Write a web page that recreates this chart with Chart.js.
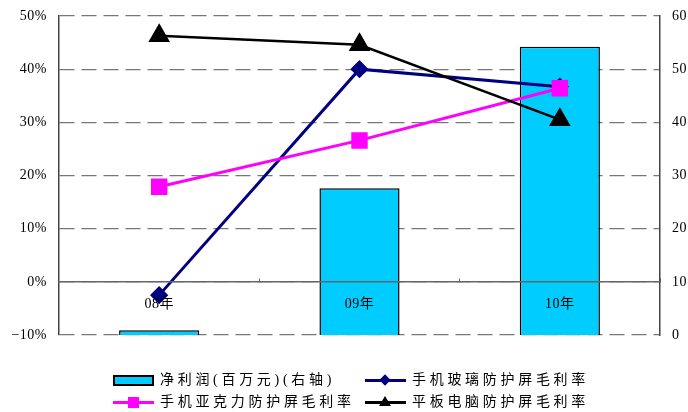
<!DOCTYPE html>
<html>
<head>
<meta charset="utf-8">
<script src="https://cdn.jsdelivr.net/npm/chart.js@4/dist/chart.umd.min.js"></script>
<style>
  body { margin: 0; background: #fff; }
  #wrap { position: relative; width: 688px; height: 412px; }
  #legend {
    position: absolute; left: 0; top: 370px; width: 688px;
    font-family: "Liberation Serif", "Noto Sans CJK SC", serif;
    font-size: 14px; letter-spacing: 3.7px; color: #000;
  }
  .item { position: absolute; height: 18px; line-height: 18px; white-space: nowrap; }
  .key { position: absolute; left: 0; top: 0; width: 41px; height: 18px; }
  .item span.txt { position: absolute; left: 47px; top: 0; }
  .line { position: absolute; left: 0; top: 8px; width: 41px; height: 3px; }
</style>
</head>
<body>
<div id="wrap">
  <canvas id="chart" width="688" height="412"></canvas>
  <div id="legend"></div>
</div>
<script>
//<![CDATA[

let categories = ['08年', '09年', '10年'];
let netProfit = [0.9, 27.6, 54.2];        // 净利润(百万元)(右轴)
let glassMargin = [-2.5, 40.0, 36.7];     // 手机玻璃防护屏毛利率
let acrylicMargin = [17.9, 26.6, 36.4];   // 手机亚克力防护屏毛利率
let tabletMargin = [46.3, 44.6, 30.5];    // 平板电脑防护屏毛利率
let leftTicks = [-10, 0, 10, 20, 30, 40, 50];
let rightTicks = [0, 10, 20, 30, 40, 50, 60];

let fontFamily = '"Liberation Serif", "Noto Sans CJK SC", serif';

// canvas text is slightly letter-spaced like the original
const spacing = {
    id: 'spacing',
    beforeUpdate(chart) { chart.ctx.letterSpacing = '0.5px'; },
    beforeDraw(chart) { chart.ctx.letterSpacing = '0.5px'; }
};

function fixWidth(w) {
    return function(scale) {
        scale.width = w;
        scale.paddingTop = 0;
        scale.paddingBottom = 0;
    };
}

const ctx = document.getElementById('chart');
const chart = new Chart(ctx, {
    data: {
        labels: categories,
        datasets: [
            {
                type: 'bar',
                label: '净利润(百万元)(右轴)',
                data: netProfit,
                yAxisID: 'y1',
                backgroundColor: '#00ccff',
                borderColor: '#000',
                borderWidth: 1.5,
                barPercentage: 0.4,
                categoryPercentage: 1,
                order: 3
            },
            {
                type: 'line',
                label: '手机玻璃防护屏毛利率',
                data: glassMargin,
                yAxisID: 'y',
                borderColor: '#000080',
                backgroundColor: '#000080',
                borderWidth: 3,
                pointStyle: 'rectRot',
                pointRadius: 7,
                order: 2
            },
            {
                type: 'line',
                label: '手机亚克力防护屏毛利率',
                data: acrylicMargin,
                yAxisID: 'y',
                borderColor: '#ff00ff',
                backgroundColor: '#ff00ff',
                borderWidth: 3,
                pointStyle: 'rect',
                pointRadius: 9.5,
                order: 1
            },
            {
                type: 'line',
                label: '平板电脑防护屏毛利率',
                data: tabletMargin,
                yAxisID: 'y',
                borderColor: '#000',
                backgroundColor: '#000',
                borderWidth: 2.5,
                pointStyle: 'triangle',
                pointRadius: 10,
                order: 0
            }
        ]
    },
    options: {
        responsive: false,
        animation: false,
        layout: { padding: { top: 16, bottom: 77, left: 0, right: 0 } },
        plugins: {
            legend: { display: false },
            tooltip: { enabled: false }
        },
        scales: {
            x: {
                type: 'category',
                position: { y: 0 },
                offset: true,
                // small tick marks pointing up at the category boundaries
                grid: {
                    display: true,
                    offset: true,
                    drawOnChartArea: false,
                    drawTicks: true,
                    tickLength: -4,
                    tickColor: '#666',
                    lineWidth: 1
                },
                border: { display: true, color: '#666', width: 1.5, z: 1 },
                ticks: {
                    z: 1,
                    padding: 18,
                    color: '#000',
                    font: { family: fontFamily, size: 14 }
                }
            },
            y: {
                position: 'left',
                min: -10,
                max: 50,
                afterFit: fixWidth(59),
                afterBuildTicks(scale) { scale.ticks = leftTicks.map(v => ({ value: v })); },
                grid: { color: '#777', lineWidth: 1.3, drawTicks: false },
                border: { display: true, color: '#444', width: 1.5, dash: [15, 7] },
                ticks: {
                    padding: 12,
                    color: '#000',
                    font: { family: fontFamily, size: 14 },
                    callback: v => (v < 0 ? '\u2212' + (-v) : v) + '%'
                }
            },
            y1: {
                position: 'right',
                min: 0,
                max: 60,
                afterFit: fixWidth(28),
                afterBuildTicks(scale) { scale.ticks = rightTicks.map(v => ({ value: v })); },
                grid: { display: false, drawTicks: false },
                border: { display: true, color: '#444', width: 1.5 },
                ticks: {
                    padding: 12,
                    color: '#000',
                    font: { family: fontFamily, size: 14 }
                }
            }
        }
    },
    plugins: [spacing]
});

// legend laid out in two columns like the original
let legendItems = [
    { x: 113, y: 1, kind: 'box' },
    { x: 365, y: 1, kind: 'diamond' },
    { x: 113, y: 23, kind: 'square' },
    { x: 365, y: 23, kind: 'triangle' }
];
let legend = document.getElementById('legend');
chart.data.datasets.forEach((ds, i) => {
    let it = legendItems[i];
    let el = document.createElement('div');
    el.className = 'item';
    el.style.left = it.x + 'px';
    el.style.top = it.y + 'px';
    let key = '';
    if (it.kind === 'box') {
        key = '<div style="position:absolute;left:0;top:4px;width:37px;height:7px;background:#00ccff;border:2px solid #000"></div>';
    } else {
        key = '<div class="line" style="background:' + ds.borderColor + '"></div>';
        if (it.kind === 'diamond') {
            key += '<div style="position:absolute;left:16px;top:5px;width:8px;height:8px;background:#000080;transform:rotate(45deg)"></div>';
        } else if (it.kind === 'square') {
            key += '<div style="position:absolute;left:15px;top:4px;width:11px;height:11px;background:#ff00ff"></div>';
        } else {
            key += '<div style="position:absolute;left:14px;top:3px;width:0;height:0;border-left:6px solid transparent;border-right:6px solid transparent;border-bottom:10px solid #000"></div>';
        }
    }
    el.innerHTML = '<div class="key">' + key + '</div><span class="txt">' + ds.label + '</span>';
    legend.appendChild(el);
});

// ]]>
</script>
</body>
</html>
